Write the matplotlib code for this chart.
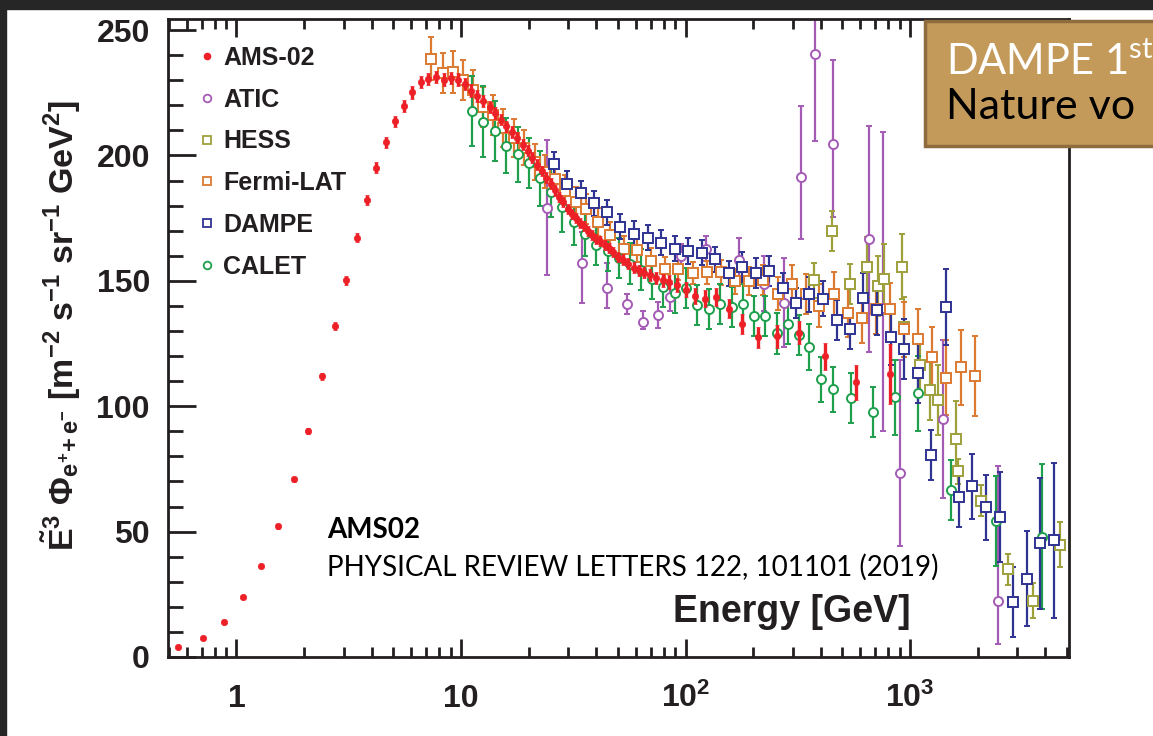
import matplotlib
matplotlib.use("Agg")
import matplotlib.pyplot as plt
from matplotlib.lines import Line2D
from matplotlib.patches import Rectangle
from matplotlib.ticker import FixedLocator, LogLocator, MultipleLocator, NullFormatter

plt.rcParams["font.family"] = ["Liberation Sans", "DejaVu Sans"]
plt.rcParams["mathtext.fontset"] = "custom"
plt.rcParams["mathtext.bf"] = "Liberation Sans:bold"
plt.rcParams["mathtext.rm"] = "Lato"
plt.rcParams["mathtext.it"] = "Liberation Sans:italic"

# E^3 x flux of electrons + positrons, [m^-2 s^-1 sr^-1 GeV^2] vs energy [GeV]
ams_e = [0.55, 0.71, 0.88, 1.07, 1.29, 1.54, 1.80, 2.08, 2.40, 2.74, 3.09, 3.43, 3.80,
         4.20, 4.63, 5.09, 5.58, 6.08, 6.62, 7.16, 7.74, 8.38, 9.01, 9.68, 10.4, 11.1,
         11.8, 12.6, 13.4, 14.2, 15.0, 15.9, 16.8, 17.8, 18.8, 19.8, 20.8, 21.8, 22.9,
         24.0, 25.1, 26.3, 27.4, 28.6, 29.9, 31.2, 32.5, 33.8, 35.2, 36.8, 38.4, 40.0,
         41.7, 43.6, 45.5, 47.6, 50.1, 52.8, 55.7, 58.9, 62.1, 65.6, 69.3, 73.7, 79.0,
         84.6, 91.2, 100.3, 110.4, 122.3, 136.4, 155.5, 178.8, 210.5, 255.2, 319.7,
         417.0, 577.0, 813.0]
ams_f = [3.9, 7.6, 14.0, 23.8, 36.4, 52.2, 70.9, 90.0, 111.9, 131.9, 150.2, 167.2, 182.4,
         195.1, 205.2, 213.6, 219.6, 225.1, 229.3, 230.5, 231.3, 230.2, 230.9, 230.2, 228.4,
         225.8, 223.6, 221.6, 219.3, 216.9, 214.3, 211.6, 209.3, 207.1, 204.3, 201.8, 199.1,
         196.3, 193.8, 191.1, 188.8, 186.1, 183.4, 181.4, 178.6, 176.8, 175.0, 173.0, 171.7,
         170.0, 168.4, 166.8, 165.7, 164.4, 163.2, 161.5, 159.5, 158.5, 156.9, 155.3, 154.2,
         153.3, 152.2, 151.1, 150.2, 149.5, 148.2, 146.5, 144.1, 142.8, 143.5, 138.9, 132.9,
         127.4, 127.9, 129.3, 119.9, 109.6, 112.7]
ams_err = [0.5, 0.5, 0.6, 0.7, 0.8, 1.0, 1.0, 1.2, 1.3, 1.5, 1.7, 1.9, 2.0,
           2.1, 2.2, 2.3, 2.4, 2.4, 2.5, 2.5, 2.5, 2.5, 2.5, 2.5, 2.5,
           2.5, 2.4, 2.4, 2.4, 2.4, 2.3, 2.3, 2.3, 2.2, 2.2, 2.2, 2.2,
           2.1, 2.1, 2.1, 2.1, 2.1, 2.0, 2.0, 2.0, 2.0, 2.0, 2.0, 2.0,
           2.0, 2.0, 2.0, 2.0, 2.0, 2.0, 2.1, 2.1, 2.1, 2.2, 2.2, 2.3,
           2.3, 2.4, 2.5, 2.6, 2.7, 2.8, 3.0, 3.2, 3.4, 3.6, 3.8, 4.0,
           4.3, 4.5, 4.6, 5.3, 7.0, 12.0]

atic_e = [24.2, 34.6, 44.5, 55.0, 64.8, 75.1, 85.1, 95.0, 123.1, 173.4, 223.2, 275.0,
          325.3, 377.6, 451.5, 657.7, 755.0, 904.0, 1403.0, 2467.0]
atic_f = [179.2, 157.3, 147.1, 140.6, 133.6, 136.2, 143.5, 159.8, 162.8, 158.4, 148.9, 141.2,
          191.4, 240.3, 204.7, 166.7, 139.3, 73.3, 94.9, 22.2]
atic_lo = [27.0, 16.0, 8.0, 4.0, 3.0, 5.0, 5.4, 5.0, 5.0, 8.5, 11.0, 17.6,
           24.6, 34.7, 29.3, 45.0, 49.0, 29.0, 31.5, 17.0]
atic_hi = [27.0, 12.0, 10.0, 4.0, 4.5, 5.3, 5.4, 5.0, 5.0, 8.5, 11.0, 18.0,
           28.4, 35.0, 33.5, 45.0, 70.0, 45.0, 31.4, 54.0]

hess_e = [374, 448, 541, 640, 722, 766, 919, 935, 1110, 1231, 1328, 1603, 1632, 2062,
          2719, 3515, 4634]
hess_f = [150.2, 169.9, 148.9, 155.6, 148.0, 150.6, 155.7, 131.5, 116.5, 106.5, 102.5, 87.1,
          74.0, 62.4, 34.9, 22.5, 44.7]
hess_err = [7, 8, 8, 12, 12, 14, 13, 12, 12, 12, 14, 15, 5, 6, 6, 7, 9]

fermi_e = [7.39, 8.28, 9.22, 10.2, 11.3, 12.5, 13.9, 15.4, 17.2, 19.0, 21.3, 23.6, 26.3,
           29.2, 32.5, 36.2, 40.7, 45.9, 53.3, 61.0, 69.9, 80.7, 93.0, 108.1, 124.8, 143.2,
           165.9, 192.0, 221.6, 257.0, 296.6, 343.4, 393.8, 456.3, 526.6, 608.3, 704.2,
           813.4, 938, 1083, 1254, 1452, 1678, 1945]
fermi_f = [238.6, 233.0, 233.3, 230.0, 226.0, 219.3, 216.0, 211.0, 207.0, 203.0, 197.4, 193.5,
           190.7, 186.0, 181.4, 178.8, 173.4, 168.1, 162.8, 162.4, 157.9, 154.9, 154.9, 153.2,
           153.4, 153.4, 149.8, 149.9, 150.2, 144.9, 148.9, 144.6, 140.1, 144.6, 137.2, 135.3,
           138.9, 138.8, 130.7, 126.9, 119.7, 111.4, 115.5, 112.0]
fermi_err = [8.5, 8.0, 8.5, 8.0, 8.0, 8.0, 8.0, 7.5, 7.5, 7.0, 7.0, 6.5, 6.5,
             6.0, 6.0, 6.0, 5.5, 5.5, 5.0, 5.0, 5.0, 4.5, 4.5, 4.5, 4.5, 5.0,
             5.0, 5.5, 6.0, 6.5, 7.5, 8.0, 8.5, 9.0, 9.5, 10.0, 10.0,
             10.5, 11.0, 12.0, 12.0, 15.0, 15.0, 16.0]

dampe_e = [25.9, 29.7, 34.2, 39.1, 44.8, 51.3, 58.9, 68.0, 77.9, 89.6, 102.7, 118.3, 135.6,
           155.5, 178.1, 205.7, 235.7, 270.3, 309.8, 355.4, 410.3, 470.6, 539.6, 618.5,
           709.3, 819, 944, 1083, 1245, 1439, 1645, 1893, 2172, 2510, 2884, 3307, 3803, 4372]
dampe_f = [196.4, 188.8, 185.0, 181.0, 177.3, 171.5, 168.8, 167.1, 165.1, 162.8, 161.9, 161.2,
           158.6, 153.1, 155.5, 153.1, 153.8, 147.3, 141.2, 144.6, 142.9, 134.5, 130.9, 143.1,
           138.5, 127.4, 122.7, 113.2, 80.4, 139.6, 63.7, 68.0, 59.7, 55.7, 21.8, 31.2, 45.3,
           46.5]
dampe_err = [5, 5, 5, 5, 5, 5, 5, 5, 5, 5, 5, 5, 5,
             5, 6, 6, 6, 6, 6, 7, 7, 8, 8, 10,
             10, 11, 12, 12, 10, 15, 12, 13, 13, 18, 14, 19, 26, 31]

calet_e = [11.2, 12.6, 14.2, 15.9, 17.9, 20.1, 22.5, 25.3, 28.3, 31.8, 35.6, 40.1, 45.0,
           50.5, 56.5, 63.4, 71.0, 79.4, 89.6, 100.9, 113.0, 126.9, 142.1, 160.3, 180.0,
           201.4, 226.2, 254.3, 284.6, 319.7, 355.4, 400.7, 452.6, 543, 682.8, 860.9, 1083,
           1524, 2422, 3864]
calet_f = [217.7, 213.5, 209.6, 203.9, 200.4, 197.1, 190.9, 185.4, 179.4, 173.4, 168.8, 164.2,
           161.9, 159.2, 156.9, 154.5, 150.9, 147.5, 145.1, 147.3, 140.2, 138.9, 140.6, 139.7,
           140.9, 135.8, 136.0, 129.0, 132.9, 128.5, 123.6, 110.8, 106.8, 103.2, 97.6, 103.6,
           105.1, 66.7, 54.3, 48.0]
calet_err = [14, 14, 12, 11, 11, 10, 11, 10, 10, 9, 9, 8, 8,
             8, 8, 8, 8, 8, 8, 8, 8, 8, 8, 8, 8,
             8, 8, 8, 8, 8, 9, 9, 9, 10, 10, 15, 15,
             12, 18, 29]

W, H = 1153, 736
fig = plt.figure(figsize=(W / 100, H / 100), dpi=100)
ax = fig.add_axes([168 / W, 1 - 657 / H, 901 / W, 638.5 / H])

# open-marker experiments first, AMS-02 dots drawn on top
series = [
    ("ATIC", atic_e, atic_f, [atic_lo, atic_hi], "#a45bb6", "o"),
    ("HESS", hess_e, hess_f, hess_err, "#9ea03c", "s"),
    ("Fermi-LAT", fermi_e, fermi_f, fermi_err, "#dc7a32", "s"),
    ("CALET", calet_e, calet_f, calet_err, "#1e9f4c", "o"),
    ("DAMPE", dampe_e, dampe_f, dampe_err, "#2f3392", "s"),
]
for name, e, f, err, col, mk in series:
    ax.errorbar(e, f, yerr=err, fmt=mk, ms=6.5, mfc="white", mec=col, mew=1.4,
                ecolor=col, elinewidth=1.6, capsize=2.3, capthick=1.5)

ax.errorbar(ams_e, ams_f, yerr=ams_err, fmt="o", ms=4.6, mfc="#ee2027", mec="#ee2027",
            mew=0.5, ecolor="#ee2027", elinewidth=2.4, capsize=1.6, capthick=1.8, zorder=4)

ax.set_xscale("log")
ax.set_xlim(0.496, 5100)
ax.set_ylim(0, 254.6)

ax.xaxis.set_major_locator(FixedLocator([1, 10, 100, 1000]))
ax.set_xticklabels(["1", "10", r"$\mathbf{10^{2}}$", r"$\mathbf{10^{3}}$"])
ax.xaxis.set_minor_locator(LogLocator(base=10, subs=range(2, 10), numticks=20))
ax.xaxis.set_minor_formatter(NullFormatter())
ax.yaxis.set_major_locator(MultipleLocator(50))
ax.yaxis.set_minor_locator(MultipleLocator(10))

ink = "#231f20"
for s in ax.spines.values():
    s.set_linewidth(2.0)
    s.set_color(ink)
ax.tick_params(which="both", direction="in", top=True, right=False, color=ink, width=2.0)
ax.tick_params(axis="x", which="major", length=13, pad=36)
ax.tick_params(axis="x", which="minor", length=7)
ax.tick_params(axis="y", which="major", length=20, pad=13)
ax.tick_params(axis="y", which="minor", length=11)
for lab in ax.get_xticklabels() + ax.get_yticklabels():
    lab.set_fontsize(23)
    lab.set_fontweight("bold")
    lab.set_color(ink)
for lab in ax.get_xticklabels():
    lab.set_verticalalignment("baseline")

ax.set_ylabel(r"$\mathbf{\tilde{E}^{3}\ \Phi_{e^{+}\!+e^{-}}\ [m^{-2}\ s^{-1}\ sr^{-1}\ GeV^{2}]}$",
              fontsize=24.5, color=ink)
ax.yaxis.set_label_coords(-0.094, 0.52)

handles = [
    Line2D([], [], ls="none", marker="o", ms=4.5, mfc="#ee2027", mec="#ee2027"),
    Line2D([], [], ls="none", marker="o", ms=5.5, mfc="white", mec="#a45bb6", mew=1.3),
    Line2D([], [], ls="none", marker="s", ms=5.5, mfc="white", mec="#9ea03c", mew=1.3),
    Line2D([], [], ls="none", marker="s", ms=5.5, mfc="white", mec="#dc7a32", mew=1.3),
    Line2D([], [], ls="none", marker="s", ms=5.5, mfc="white", mec="#2f3392", mew=1.3),
    Line2D([], [], ls="none", marker="o", ms=5.5, mfc="white", mec="#1e9f4c", mew=1.3),
]
labels = ["AMS-02", "ATIC", "HESS", "Fermi-LAT", "DAMPE", "CALET"]
leg = ax.legend(handles, labels, loc="upper left", bbox_to_anchor=(0.032, 0.957),
                frameon=False, borderpad=0, borderaxespad=0, handlelength=0.8,
                handletextpad=0.25, labelspacing=0.71,
                prop={"family": "Liberation Sans", "weight": "bold", "size": 18})
for t in leg.get_texts():
    t.set_color(ink)

fig.text(327 / W, 1 - 530 / H, "AMS02", fontsize=20, fontweight="bold", family="Lato",
         va="center", ha="left", color="black")
fig.text(327 / W, 1 - 567 / H, "PHYSICAL REVIEW LETTERS 122, 101101 (2019)", fontsize=20,
         family="Lato", va="center", ha="left", color="black")
fig.text(673 / W, 1 - 612 / H, "Energy [GeV]", fontsize=27, fontweight="bold",
         va="center", ha="left", color=ink)

# slide frame and title box
fig.add_artist(Rectangle((0, 1 - 9 / H), 1, 9 / H, transform=fig.transFigure,
                         color="#262626", zorder=10))
fig.add_artist(Rectangle((0, 0), 6 / W, 1, transform=fig.transFigure,
                         color="#262626", zorder=10))
fig.add_artist(Rectangle((925 / W, 1 - 146 / H), 0.2, 125 / H, transform=fig.transFigure,
                         facecolor="#c49a5b", edgecolor="#8d6c3e", lw=2.5, zorder=5))
fig.text(946 / W, 1 - 62 / H, r"DAMPE 1$^{\mathrm{st}}$", fontsize=30,
         family="Lato", color="white", va="center", ha="left", zorder=6)
fig.text(946 / W, 1 - 107 / H, "Nature vo", fontsize=31,
         family="Lato", color="black", va="center", ha="left", zorder=6)

fig.savefig("out.png", dpi=100)
